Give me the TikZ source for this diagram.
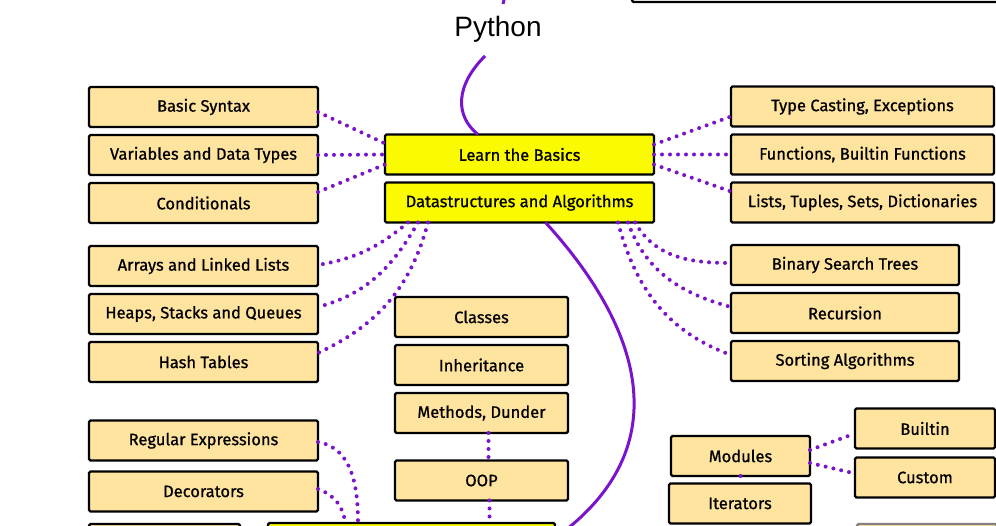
\documentclass[tikz,border=0pt]{standalone}
\usepackage{fontspec}
\usepackage{tikz}
\usetikzlibrary{positioning}
\setmainfont{Fira Sans}[FakeBold=0.8]
\newfontfamily\titlefont{Liberation Sans}
\definecolor{roadtan}{HTML}{FFE4A0}
\definecolor{roadyellow}{HTML}{FAFA00}
\definecolor{roadpurple}{HTML}{7A14CC}

\begin{document}
\begin{tikzpicture}[x=1pt, y=1pt, node distance=8pt,
  sub/.style = {draw, line width=2.4pt, fill=roadtan, rounded corners=1.5pt, outer sep=0pt, minimum height=40pt, inner sep=0pt, font=\fontsize{16.5}{18}\selectfont},
  topic/.style = {sub, fill=roadyellow},
  link/.style = {draw=roadpurple, line width=4pt, line cap=round, dash pattern=on 0pt off 8pt},
  spine/.style = {draw=roadpurple, line width=3pt}]
\useasboundingbox (0,0) rectangle (996,526);

\node[font=\titlefont\fontsize{28}{30}\selectfont] (python) at (498,497) {Python};

% center
\node[topic, minimum width=269pt] (basics) at (519.5,371.5) {Learn the Basics};
\node[topic, minimum width=269pt] (dsa) [below=of basics] {Datastructures and Algorithms};
\node[sub, minimum width=173pt] (classes) at (481.5,209) {Classes};
\node[sub, minimum width=173pt] (inherit) [below=of classes] {Inheritance};
\node[sub, minimum width=173pt] (methods) [below=of inherit] {Methods, Dunder};
\node[sub, minimum width=173pt] (oop) at (481.5,45.5) {OOP};

% left
\node[sub, minimum width=229pt] (syntax) at (203.5,419) {Basic Syntax};
\node[sub, minimum width=229pt] (vars) [below=of syntax] {Variables and Data Types};
\node[sub, minimum width=229pt] (cond) [below=of vars] {Conditionals};
\node[sub, minimum width=229pt] (arrays) at (203.5,260) {Arrays and Linked Lists};
\node[sub, minimum width=229pt] (heaps) [below=of arrays] {Heaps, Stacks and Queues};
\node[sub, minimum width=229pt] (hash) [below=of heaps] {Hash Tables};
\node[sub, minimum width=229pt] (regex) at (203.5,85.5) {Regular Expressions};
\node[sub, minimum width=229pt] (deco) [below=11pt of regex] {Decorators};

% right
\node[sub, minimum width=263pt] (casting) at (862.5,419.5) {Type Casting, Exceptions};
\node[sub, minimum width=263pt] (funcs) [below=of casting] {Functions, Builtin Functions};
\node[sub, minimum width=263pt] (lists) [below=of funcs] {Lists, Tuples, Sets, Dictionaries};
\node[sub, minimum width=228pt] (bst) at (845,261) {Binary Search Trees};
\node[sub, minimum width=228pt] (recur) [below=of bst] {Recursion};
\node[sub, minimum width=228pt] (sorting) [below=of recur] {Sorting Algorithms};
\node[sub, minimum width=139pt] (modules) at (740.5,70) {Modules};
\node[sub, minimum width=142pt] (iters) at (740,22.5) {Iterators};
\node[sub, minimum width=140pt] (builtin) at (925,97.5) {Builtin};
\node[sub, minimum width=140pt] (custom) at (925,48.5) {Custom};

% cut off by the page edge
\node[topic, minimum width=287pt, anchor=north west] (next) at (268,3) {};
\node[sub, minimum width=151pt, anchor=north west] (nextleft) at (89,2) {};
\node[sub, draw=gray, minimum width=140pt, anchor=north west] (nextright) at (857,2) {};
\node[sub, fill=white, minimum width=370pt, anchor=south west] (prev) at (632,524) {};

% solid path
\coordinate (spinetop) at (485,470);
\coordinate (spinein) at (503,522);
\coordinate (spineout) at (506,534);
\coordinate (spineend) at (558,-10);
\draw[spine] (spinein) -- (spineout);
\draw[spine] (spinetop) .. controls (455,440) and (455,410) .. ([xshift=-41.5pt]basics.north);
\draw[spine] ([xshift=26pt]dsa.south) .. controls (640,200) and (680,80) .. (spineend);

% dotted links
\draw[link] ([yshift=-5pt]syntax.east) -- ([yshift=11pt]basics.west);
\draw[link] (vars.east) -- (basics.west);
\draw[link] ([yshift=11pt]cond.east) -- ([yshift=-10pt]basics.west);
\draw[link] ([yshift=10pt]basics.east) -- ([yshift=-10pt]casting.west);
\draw[link] (basics.east) -- (funcs.west);
\draw[link] ([yshift=-10pt]basics.east) -- ([yshift=11pt]lists.west);
\draw[link] ([xshift=23pt]dsa.south west) to[out=-140,in=10] ([yshift=1pt]arrays.east);
\draw[link] ([xshift=33pt]dsa.south west) to[out=-120,in=15] ([yshift=7pt]heaps.east);
\draw[link] ([xshift=43pt]dsa.south west) to[out=-105,in=25] ([yshift=9pt]hash.east);
\draw[link] ([xshift=-19pt]dsa.south east) to[out=-60,in=180] ([yshift=2pt]bst.west);
\draw[link] ([xshift=-26pt]dsa.south east) to[out=-70,in=165] ([yshift=6pt]recur.west);
\draw[link] ([xshift=-36pt]dsa.south east) to[out=-75,in=160] ([yshift=6pt]sorting.west);
\draw[link] ([xshift=7pt]methods.south) -- ([xshift=7pt]oop.north);
\draw[link] ([xshift=8pt]oop.south) -- ([xshift=221.5pt]next.north west);
\draw[link] ([yshift=-1.5pt]regex.east) to[out=-10,in=90] ([xshift=90pt]next.north west);
\draw[link] ([yshift=2.5pt]deco.east) to[out=-20,in=95] ([xshift=77pt]next.north west);
\draw[link] ([yshift=6pt]modules.east) -- ([yshift=-5pt]builtin.west);
\draw[link] ([yshift=-7pt]modules.east) -- ([yshift=4pt]custom.west);
\draw[link] (modules.south) -- (iters.north);

\end{tikzpicture}
\end{document}
